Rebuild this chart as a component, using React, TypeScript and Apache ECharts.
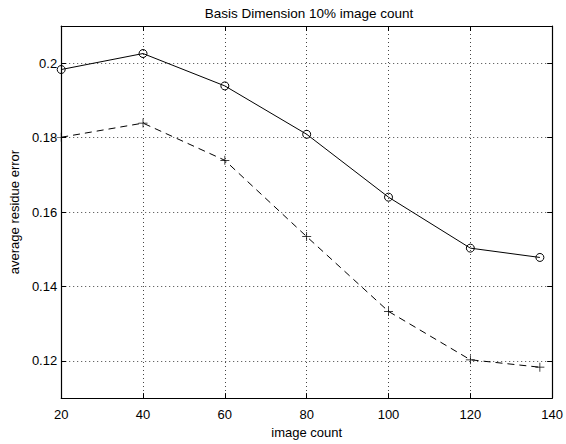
import React, { useEffect, useRef } from "react";
import * as echarts from "echarts";

const imageCounts = [20, 40, 60, 80, 100, 120, 137];
const solidSeries = [0.1983, 0.2026, 0.1939, 0.1809, 0.164, 0.1503, 0.1478];
const dashedSeries = [0.1801, 0.1839, 0.1739, 0.1534, 0.1333, 0.1203, 0.1183];
const xTicks = [20, 40, 60, 80, 100, 120, 140];
const yTickLabels = [0.12, 0.14, 0.16, 0.18, 0.2];

const FONT = "'Liberation Sans', Arial, Helvetica, sans-serif";

export default function App() {
  const ref = useRef<HTMLDivElement>(null);
  useEffect(() => {
    if (!ref.current) return;
    const chart = echarts.init(ref.current, undefined, { renderer: "svg" });
    const plus = "path://M4.6,0H5.4V10H4.6ZM0,4.6H10V5.4H0Z";
    const yFmt = (v: number) => {
      const hit = yTickLabels.find((t) => Math.abs(t - v) < 1e-9);
      return hit === undefined ? "" : String(hit);
    };
    const frameLine = { show: true, lineStyle: { color: "#000", width: 1.2 } };
    const tick = { show: true, inside: true, length: 5, lineStyle: { color: "#000", width: 1 } };
    const grid = { show: true, lineStyle: { color: "#444", width: 1, type: [1, 3] as any } };
    chart.setOption({
      animation: false,
      backgroundColor: "#fff",
      textStyle: { fontFamily: FONT },
      title: {
        text: "Basis Dimension 10% image count",
        left: 304,
        textAlign: "center",
        top: 1,
        textStyle: { fontSize: 13.5, fontWeight: "normal", color: "#000", fontFamily: FONT },
      },
      grid: { left: 53, right: 11.4, top: 26, bottom: 37.5, containLabel: false },
      xAxis: [
        {
          type: "value",
          min: xTicks[0],
          max: xTicks[xTicks.length - 1],
          interval: 20,
          position: "bottom",
          name: "image count",
          nameLocation: "middle",
          nameGap: 23,
          nameTextStyle: { fontSize: 13, color: "#000", fontFamily: FONT },
          axisLine: frameLine,
          axisTick: tick,
          axisLabel: { fontSize: 13, color: "#000", margin: 10, fontFamily: FONT },
          splitLine: grid,
        },
        {
          type: "value",
          min: xTicks[0],
          max: xTicks[xTicks.length - 1],
          interval: 20,
          position: "top",
          axisLine: frameLine,
          axisTick: tick,
          axisLabel: { show: false },
          splitLine: { show: false },
        },
      ],
      yAxis: [
        {
          type: "value",
          min: 0.11,
          max: 0.21,
          splitNumber: 5,
          position: "left",
          name: "average residue error",
          nameLocation: "middle",
          nameGap: 33,
          nameTextStyle: { fontSize: 13, color: "#000", fontFamily: FONT },
          axisLine: frameLine,
          axisTick: tick,
          axisLabel: { fontSize: 13, color: "#000", margin: 4, formatter: yFmt, fontFamily: FONT },
          splitLine: grid,
        },
        {
          type: "value",
          min: 0.11,
          max: 0.21,
          splitNumber: 5,
          position: "right",
          axisLine: frameLine,
          axisTick: tick,
          axisLabel: { show: false },
          splitLine: { show: false },
        },
      ],
      series: [
        {
          type: "line",
          data: imageCounts.map((x, i) => [x, solidSeries[i]]),
          symbol: "circle",
          symbolSize: 8,
          showAllSymbol: true,
          lineStyle: { color: "#000", width: 1 },
          itemStyle: { color: "none", borderColor: "#000", borderWidth: 1 },
          z: 5,
        },
        {
          type: "line",
          data: imageCounts.map((x, i) => [x, dashedSeries[i]]),
          symbol: plus,
          symbolSize: 9,
          showAllSymbol: true,
          lineStyle: { color: "#000", width: 1, type: [7, 5] as any },
          itemStyle: { color: "#000" },
          z: 5,
        },
      ],
    });
    return () => chart.dispose();
  }, []);
  return (
    <div
      ref={ref}
      style={{ position: "fixed", left: 0, top: 0, width: 566, height: 444, background: "#fff" }}
    />
  );
}
